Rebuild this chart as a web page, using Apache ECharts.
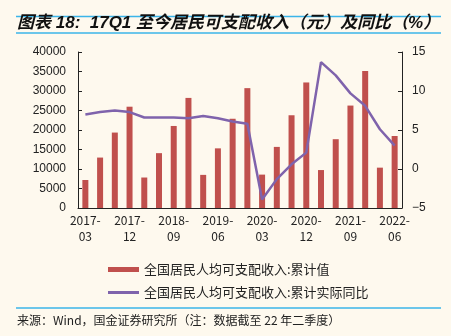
<!DOCTYPE html>
<html><head><meta charset="utf-8">
<script src="https://cdn.jsdelivr.net/npm/echarts@6/dist/echarts.min.js"></script>
<style>html,body{margin:0;padding:0;background:#FEF9EE;}#c{width:451px;height:336px;}</style>
</head><body><div id="c"></div>
<script>
const categories = ["2017-03","2017-06","2017-09","2017-12","2018-03","2018-06","2018-09","2018-12","2019-03","2019-06","2019-09","2019-12","2020-03","2020-06","2020-09","2020-12","2021-03","2021-06","2021-09","2021-12","2022-03","2022-06"];
const incomeCum = [7184,12932,19342,25974,7815,14063,21035,28228,8493,15294,22882,30733,8561,15666,23781,32189,9730,17642,26265,35128,10345,18463];
const realYoY = [7.0,7.3,7.5,7.3,6.6,6.6,6.6,6.5,6.8,6.5,6.1,5.8,-3.9,-1.3,0.6,2.1,13.7,12.0,9.7,8.1,5.1,3.0];
const leftTicks = {min:0,max:40000,interval:5000};
const rightTicks = {min:-5,max:15,interval:5};
const barName = "全国居民人均可支配收入:累计值";
const lineName = "全国居民人均可支配收入:累计实际同比";

const chart = echarts.init(document.getElementById('c'));
const axisFont = {color:'#222', fontSize:12, fontFamily:'Liberation Sans, Arial'};
chart.setOption({
  backgroundColor:'#FEF9EE',
  animation:false,
  grid:{left:78,right:49,top:52,bottom:128},
  legend:[
    {data:[barName],left:103,top:258,orient:'vertical',itemWidth:31,itemHeight:5,icon:'rect',
     textStyle:{fontSize:13,color:'#222',fontFamily:'Noto Sans CJK SC'}},
    {data:[lineName],left:103,top:281,orient:'vertical',itemWidth:31,itemHeight:3,icon:'rect',
     textStyle:{fontSize:13,color:'#222',fontFamily:'Noto Sans CJK SC'}}
  ],
  xAxis:{type:'category',data:categories,boundaryGap:true,
    axisLine:{lineStyle:{color:'#222',width:1}},
    axisTick:{inside:true,length:4,interval:0,lineStyle:{color:'#222'}},
    axisLabel:{interval:2,color:'#222',fontSize:12,fontFamily:'Noto Sans CJK SC',lineHeight:16,margin:4,
      formatter:v=>v.replace('-','-\n')}},
  yAxis:[
    {type:'value',min:leftTicks.min,max:leftTicks.max,interval:leftTicks.interval,
     splitLine:{show:false},axisLine:{show:true,lineStyle:{color:'#222'}},
     axisTick:{show:true,inside:true,length:4,lineStyle:{color:'#222'}},
     axisLabel:Object.assign({margin:12,formatter:v=>String(v)},axisFont)},
    {type:'value',min:rightTicks.min,max:rightTicks.max,interval:rightTicks.interval,position:'right',
     splitLine:{show:false},axisLine:{show:true,lineStyle:{color:'#222'}},
     axisTick:{show:true,inside:true,length:4,lineStyle:{color:'#222'}},
     axisLabel:Object.assign({margin:10,formatter:v=>String(v).replace('-','\u2212')},axisFont)}
  ],
  series:[
    {name:barName,type:'bar',data:incomeCum,barWidth:6,itemStyle:{color:'#C0504D'},yAxisIndex:0},
    {name:lineName,type:'line',data:realYoY,yAxisIndex:1,symbol:'none',
     lineStyle:{color:'#7F63AC',width:2.5},itemStyle:{color:'#7F63AC'}}
  ],
  graphic:[
    {type:'line',shape:{x1:16,y1:16.5,x2:441,y2:16.5},style:{stroke:'#3BB5E9',lineWidth:1.5}},
    {type:'line',shape:{x1:16,y1:33,x2:441,y2:33},style:{stroke:'#3BB5E9',lineWidth:1.5}},
    {type:'text',left:17,top:15,style:{text:'图表 18:  17Q1 至今居民可支配收入（元）及同比（%）',
      font:'italic bold 17px "Liberation Sans", "Noto Sans CJK SC"',fill:'#111'}},
    {type:'line',shape:{x1:16,y1:308,x2:441,y2:308},style:{stroke:'#3BB5E9',lineWidth:1.5}},
    {type:'text',left:17,top:314,style:{text:'来源：Wind，国金证券研究所（注：数据截至 22 年二季度）',
      font:'12px "Noto Sans CJK SC"',fill:'#222'}}
  ]
});
</script></body></html>
